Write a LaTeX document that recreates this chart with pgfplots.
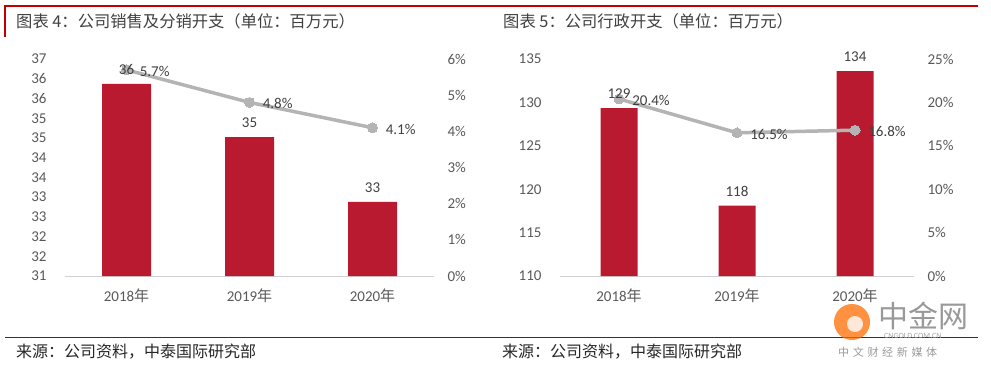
\documentclass[border=0pt]{standalone}
\usepackage{pgfplots}
\pgfplotsset{compat=1.18}
\usepackage{fontspec}
\setmainfont{Carlito}
\newfontfamily\cjk{Noto Sans CJK SC}
\definecolor{barred}{HTML}{BA1A2F}
\definecolor{linegray}{HTML}{B4B4B4}
\definecolor{txt}{HTML}{595959}
\definecolor{ttl}{HTML}{404040}
\definecolor{topred}{HTML}{C00000}
\pgfplotsset{
  /pgf/number format/assume math mode=true,
  common/.style={
    scale only axis, height=217pt, anchor=south west,
    xmin=-0.5, xmax=2.5, clip mode=individual,
    major tick length=0pt,
    tick label style={font=\fontsize{15}{17}\selectfont, text=txt},
  },
  barax/.style={
    common,
    axis x line*=bottom, axis y line*=left,
    y axis line style={draw=none},
    x axis line style={draw=black!18, line width=1pt},
    xtick={0,1,2},
    xticklabels={{2018{\cjk 年}},{2019{\cjk 年}},{2020{\cjk 年}}},
    xticklabel style={yshift=-9pt},
    yticklabel style={xshift=-15pt},
  },
  lineax/.style={
    common,
    axis x line=none, axis y line*=right,
    y axis line style={draw=none},
    xtick=\empty,
    yticklabel style={xshift=10pt},
  },
  labax/.style={
    common, hide axis,
  },
  bars/.style={
    ybar, bar width=#1, fill=barred, draw=none,
  },
  barlabels/.style={
    ybar, bar width=#1, fill=none, draw=none,
    nodes near coords={\pgfmathprintnumber[fixed,precision=0]{\pgfplotspointmeta}},
    nodes near coords style={font=\fontsize{15}{17}\selectfont, text=ttl, yshift=6pt},
  },
  pline/.style={
    linegray, line width=3.5pt, mark=*, mark size=5pt,
    mark options={fill=linegray, draw=linegray, line width=0pt},
    nodes near coords={\pgfmathprintnumber[fixed,fixed zerofill,precision=1]{\pgfplotspointmeta}\%},
    nodes near coords style={font=\fontsize{15}{17}\selectfont, text=ttl, anchor=west, xshift=10pt, yshift=-1.5pt},
  },
}
\pgfplotstableread{
x  sales  ratio
0  35.87  5.7
1  34.52  4.8
2  32.88  4.1
}\tableA
\pgfplotstableread{
x  admin   ratio
0  129.35  20.4
1  118.1   16.5
2  133.6   16.8
}\tableB
\begin{document}
\begin{tikzpicture}
\path[use as bounding box] (0pt,0pt) rectangle (991pt,368pt);
% header decorations
\draw[topred, line width=2pt] (5pt,362pt) -- (978pt,362pt);
\draw[topred, line width=2pt] (5pt,363pt) -- (5pt,331pt);
\node[anchor=west, text=ttl, font=\fontsize{16.3}{19}\selectfont\cjk, inner sep=0pt] at (16pt,347pt) {图表 4：公司销售及分销开支（单位：百万元）};
\node[anchor=west, text=ttl, font=\fontsize{16.3}{19}\selectfont\cjk, inner sep=0pt] at (503pt,347pt) {图表 5：公司行政开支（单位：百万元）};
% footer
\draw[black!80, line width=0.8pt] (5pt,31pt) -- (978pt,31pt);
\node[anchor=west, text=black!85, font=\fontsize{16}{18}\selectfont\cjk, inner sep=0pt] at (16pt,16pt) {来源：公司资料，中泰国际研究部};
\node[anchor=west, text=black!85, font=\fontsize{16}{18}\selectfont\cjk, inner sep=0pt] at (502pt,16pt) {来源：公司资料，中泰国际研究部};
% watermark
\fill[orange!85!red, opacity=0.75] (852pt,46pt) circle (18pt);
\fill[white, opacity=0.8] (855pt,44pt) circle (8pt);
\node[anchor=west, text=black!40, font=\fontsize{30}{32}\selectfont\cjk, inner sep=0pt] at (878pt,52pt) {中金网};
\node[anchor=west, text=black!35, font=\fontsize{8}{9}\selectfont, inner sep=0pt] at (884pt,32pt) {CNGOLD.COM.CN};
\node[anchor=west, text=black!40, font=\fontsize{11}{12}\selectfont\cjk, inner sep=0pt] at (838pt,16pt) {中\,\,文\,\,财\,\,经\,\,新\,\,媒\,\,体};

% ---------- left chart ----------
\begin{axis}[barax, at={(65pt,92pt)}, width=369pt,
  ymin=31, ymax=36.5, ytick={31,31.5,...,36.6},
  yticklabels={31,32,32,33,33,34,34,35,35,36,36,37}]
\addplot[bars=49pt] table[x=x, y=sales] {\tableA};
\end{axis}
\begin{axis}[lineax, at={(65pt,92pt)}, width=369pt,
  ymin=0, ymax=6, ytick={0,1,...,6},
  yticklabel={\pgfmathprintnumber{\tick}\%}]
\addplot[pline] table[x=x, y=ratio] {\tableA};
\end{axis}
\begin{axis}[labax, at={(65pt,92pt)}, width=369pt, ymin=31, ymax=36.5]
\addplot[barlabels=49pt] table[x=x, y=sales] {\tableA};
\end{axis}

% ---------- right chart ----------
\begin{axis}[barax, at={(560pt,92pt)}, width=354pt,
  ymin=110, ymax=135, ytick={110,115,...,135}]
\addplot[bars=37pt] table[x=x, y=admin] {\tableB};
\end{axis}
\begin{axis}[lineax, at={(560pt,92pt)}, width=354pt,
  ymin=0, ymax=25, ytick={0,5,...,25},
  yticklabel={\pgfmathprintnumber{\tick}\%}]
\addplot[pline] table[x=x, y=ratio] {\tableB};
\end{axis}
\begin{axis}[labax, at={(560pt,92pt)}, width=354pt, ymin=110, ymax=135]
\addplot[barlabels=37pt] table[x=x, y=admin] {\tableB};
\end{axis}
\end{tikzpicture}
\end{document}
